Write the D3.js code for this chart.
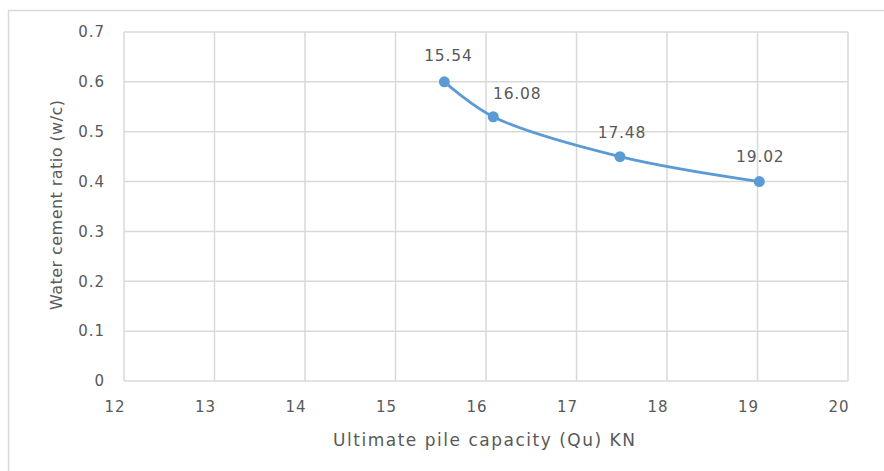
<!DOCTYPE html>
<html><head><meta charset="utf-8">
<script src="https://cdn.jsdelivr.net/npm/d3@7"></script>
<style>body{margin:0;background:#fff}svg{display:block}text{font-family:"DejaVu Sans",sans-serif;fill:#595959}</style>
</head><body><svg id="c" width="884" height="471"></svg>
<script>
const capacity = [15.54, 16.08, 17.48, 19.02];
const wcRatio = [0.6, 0.53, 0.45, 0.4];
const pointLabels = ["15.54", "16.08", "17.48", "19.02"];
const xTicks = [12, 13, 14, 15, 16, 17, 18, 19, 20];
const yTicks = [0, 0.1, 0.2, 0.3, 0.4, 0.5, 0.6, 0.7];

const svg = d3.select("#c");
const m = {l:124, r:848, t:32, b:381};
const x = d3.scaleLinear().domain([12,20]).range([m.l, m.r]);
const y = d3.scaleLinear().domain([0,0.7]).range([m.b, m.t]);
const FONT = "'DejaVu Sans',sans-serif";

svg.append("rect").attr("x",8.5).attr("y",10.5).attr("width",900).attr("height",500)
  .attr("fill","#fff").attr("stroke","#d9d9d9").attr("stroke-width",1.5);

const g = svg.append("g");
g.selectAll(".vg").data(xTicks).join("line")
  .attr("x1",d=>x(d)).attr("x2",d=>x(d)).attr("y1",m.t).attr("y2",m.b)
  .attr("stroke","#d9d9d9").attr("stroke-width",1.5);
g.selectAll(".hg").data(yTicks).join("line")
  .attr("x1",m.l).attr("x2",m.r).attr("y1",d=>y(d)).attr("y2",d=>y(d))
  .attr("stroke","#d9d9d9").attr("stroke-width",1.5);

const xa = svg.append("g").attr("transform",`translate(0,${m.b})`)
  .call(d3.axisBottom(x).tickValues(xTicks).tickSize(0).tickPadding(17).tickFormat(d3.format("d")));
xa.select(".domain").remove();
xa.selectAll("text").attr("font-size",15).attr("fill","#595959").attr("text-anchor","end")
  .attr("dy",0).attr("y",31).attr("x",1).style("letter-spacing","1px").style("font-family",FONT);

const ya = svg.append("g").attr("transform",`translate(${m.l},0)`)
  .call(d3.axisLeft(y).tickValues(yTicks).tickSize(0).tickPadding(19).tickFormat(d=>d===0?"0":d3.format(".1f")(d)));
ya.select(".domain").remove();
ya.selectAll("text").attr("font-size",15).attr("fill","#595959").style("letter-spacing","1px").style("font-family",FONT);

svg.append("text").attr("x",484).attr("y",446).attr("text-anchor","middle")
  .attr("font-size",17).attr("textLength",302).attr("lengthAdjust","spacing")
  .text("Ultimate pile capacity (Qu) KN");
svg.append("text").attr("transform",`translate(62,205) rotate(-90)`).attr("text-anchor","middle")
  .attr("font-size",16).attr("textLength",210).attr("lengthAdjust","spacing")
  .text("Water cement ratio (w/c)");

const pts = capacity.map((c,i)=>({x:c, y:wcRatio[i], label:pointLabels[i]}));
const line = d3.line().x(d=>x(d.x)).y(d=>y(d.y)).curve(d3.curveCatmullRom.alpha(0.5));
svg.append("path").datum(pts).attr("d",line).attr("fill","none")
  .attr("stroke","#5b9bd5").attr("stroke-width",2.75).attr("stroke-linecap","round");
svg.selectAll(".pt").data(pts).join("circle")
  .attr("cx",d=>x(d.x)).attr("cy",d=>y(d.y)).attr("r",5.5).attr("fill","#5b9bd5");

const labelDx = [4, 24, 2, 1];
const labelDy = [-21, -18, -19, -20];
svg.selectAll(".lbl").data(pts).join("text")
  .attr("x",(d,i)=>x(d.x)+labelDx[i]).attr("y",(d,i)=>y(d.y)+labelDy[i])
  .attr("text-anchor","middle").attr("font-size",15.5).attr("fill","#404040")
  .style("letter-spacing","0.8px").text(d=>d.label);
</script></body></html>
